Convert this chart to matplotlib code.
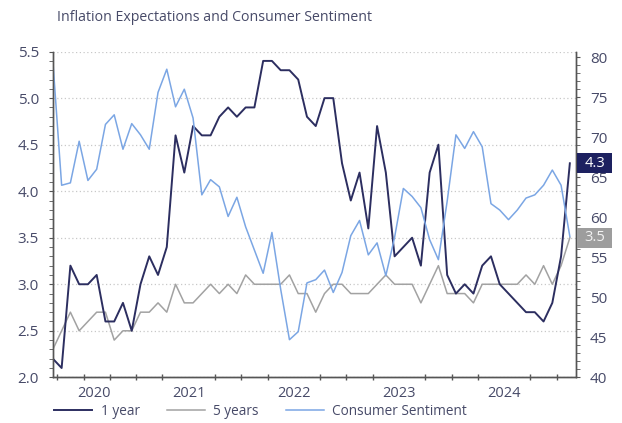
import numpy as np
import pandas as pd
import matplotlib
matplotlib.use("Agg")
import matplotlib.pyplot as plt
from matplotlib.patches import Rectangle
from matplotlib.ticker import MultipleLocator, FixedLocator
from matplotlib.transforms import blended_transform_factory

plt.rcParams['font.family'] = ['Open Sans', 'DejaVu Sans']

# monthly survey readings, Mar 2020 .. Feb 2025
months = pd.date_range("2020-03-01", periods=60, freq="MS")

one_year = [2.2, 2.1, 3.2, 3.0, 3.0, 3.1, 2.6, 2.6, 2.8, 2.5,
            3.0, 3.3, 3.1, 3.4, 4.6, 4.2, 4.7, 4.6, 4.6, 4.8,
            4.9, 4.8, 4.9, 4.9, 5.4, 5.4, 5.3, 5.3, 5.2, 4.8,
            4.7, 5.0, 5.0, 4.3, 3.9, 4.2, 3.6, 4.7, 4.2, 3.3,
            3.4, 3.5, 3.2, 4.2, 4.5, 3.1, 2.9, 3.0, 2.9, 3.2,
            3.3, 3.0, 2.9, 2.8, 2.7, 2.7, 2.6, 2.8, 3.3, 4.3]

five_year = [2.3, 2.5, 2.7, 2.5, 2.6, 2.7, 2.7, 2.4, 2.5, 2.5,
             2.7, 2.7, 2.8, 2.7, 3.0, 2.8, 2.8, 2.9, 3.0, 2.9,
             3.0, 2.9, 3.1, 3.0, 3.0, 3.0, 3.0, 3.1, 2.9, 2.9,
             2.7, 2.9, 3.0, 3.0, 2.9, 2.9, 2.9, 3.0, 3.1, 3.0,
             3.0, 3.0, 2.8, 3.0, 3.2, 2.9, 2.9, 2.9, 2.8, 3.0,
             3.0, 3.0, 3.0, 3.0, 3.1, 3.0, 3.2, 3.0, 3.2, 3.5]

sentiment = [79.5, 64.0, 64.3, 69.5, 64.6, 66.0, 71.6, 72.8, 68.5, 71.7,
             70.3, 68.5, 75.6, 78.5, 73.8, 76.0, 72.4, 62.8, 64.7, 63.8,
             60.1, 62.5, 58.8, 55.9, 53.0, 58.1, 51.0, 44.7, 45.7, 51.8,
             52.2, 53.4, 50.6, 53.1, 57.7, 59.6, 55.3, 56.8, 52.7, 57.5,
             63.6, 62.6, 61.2, 57.2, 54.7, 62.0, 70.3, 68.6, 70.7, 68.8,
             61.7, 60.9, 59.7, 60.9, 62.4, 62.8, 64.0, 65.9, 64.0, 57.6]

navy = "#2c2e60"
grey = "#a2a2a2"
light_blue = "#7ba6e4"
text_col = "#474a68"

x = np.arange(len(months))

fig = plt.figure(figsize=(6.22, 4.23), dpi=100)
ax = fig.add_axes([0.085, 0.108, 0.841, 0.770])
ax2 = ax.twinx()

ax.plot(x, one_year, color=navy, lw=1.4, zorder=4)
ax.plot(x, five_year, color=grey, lw=1.1, zorder=3)
ax2.plot(x, sentiment, color=light_blue, lw=1.1)

ax.set_xlim(0, 59.7)
ax.set_ylim(2.0, 5.5)
ax2.set_ylim(40, 80.7)

# quarter boundaries as small ticks, year names centred in each year
q_pos = [i - 0.5 for i, m in enumerate(months) if m.month in (1, 4, 7, 10)]
ax.xaxis.set_minor_locator(FixedLocator(q_pos))
year_edges = [i - 0.5 for i, m in enumerate(months) if m.month == 1]
edges = [0] + year_edges + [59.7]
centres = [(a + b) / 2 for a, b in zip(edges[:-1], edges[1:])]
years = sorted(set(months.year))
ax.set_xticks(centres[:len(years) - 1])
ax.set_xticklabels([str(y) for y in years[:-1]])
ax.tick_params(axis="x", which="major", length=0, pad=6, labelsize=10.5,
               labelcolor=text_col)
ax.tick_params(axis="x", which="minor", length=4, direction="inout",
               color="#555555", width=1)

ax.yaxis.set_major_locator(MultipleLocator(0.5))
ax.yaxis.set_minor_locator(MultipleLocator(0.1))
ax.yaxis.set_major_formatter(plt.FormatStrFormatter("%.1f"))
ax.tick_params(axis="y", which="both", length=3, color="#555555",
               labelsize=11, labelcolor=text_col, pad=7)

ax2.yaxis.set_major_locator(MultipleLocator(5))
ax2.yaxis.set_minor_locator(MultipleLocator(1))
ax2.tick_params(axis="y", which="both", length=3, color="#555555",
                labelsize=11, labelcolor=text_col, pad=7)

ax.grid(axis="y", which="major", linestyle=(0, (1, 2)), color="#c8c8c8",
        lw=0.9)
for a in (ax, ax2):
    a.spines["top"].set_visible(False)
    for s in ("left", "right", "bottom"):
        a.spines[s].set_color("#555555")
        a.spines[s].set_linewidth(1.0)

# latest values flagged on the right edge
trans = blended_transform_factory(ax2.transAxes, ax.transData)
box_w = 0.067
box_h = 0.215
for series, face, fg in ((one_year, "#1d2160", "white"),
                         (five_year, "#9d9d9d", "#f2f2f2")):
    last = series[-1]
    ax2.add_patch(Rectangle((1.002, last - box_h / 2), box_w, box_h,
                            transform=trans, fc=face, ec="none",
                            clip_on=False, zorder=9))
    ax2.text(1.002 + box_w / 2, last, f"{last:.1f}", transform=trans,
             ha="center", va="center", fontsize=10.5, color=fg, zorder=10,
             clip_on=False)

fig.text(0.092, 0.958, "Inflation Expectations and Consumer Sentiment",
         fontsize=10.2, color=text_col, va="center")

handles = [plt.Line2D([], [], color=navy, lw=1.4),
           plt.Line2D([], [], color=grey, lw=1.1),
           plt.Line2D([], [], color=light_blue, lw=1.1)]
fig.legend(handles, ["1 year", "5 years", "Consumer Sentiment"],
           loc="center", bbox_to_anchor=(0.419, 0.027), ncol=3, frameon=False,
           fontsize=9.8, labelcolor=text_col, handlelength=2.8,
           columnspacing=2.0, handletextpad=0.6)

fig.savefig("out.png", dpi=100)
